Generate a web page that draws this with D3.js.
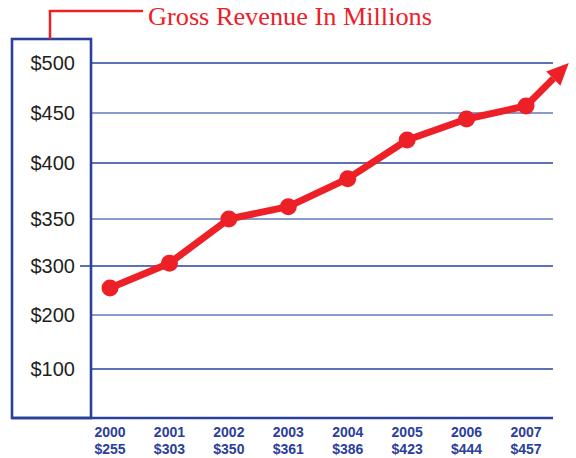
<!DOCTYPE html>
<html>
<head>
<meta charset="utf-8">
<script src="https://cdn.jsdelivr.net/npm/d3@7"></script>
<style>
  body { margin: 0; background: #fff; }
</style>
</head>
<body>
<svg id="chart"></svg>
<script>
var w = 576;
var h = 458;

// data
var years = ["2000", "2001", "2002", "2003", "2004", "2005", "2006", "2007"];
var revenue = [255, 303, 350, 361, 386, 423, 444, 457];
var tickValues = [100, 200, 300, 350, 400, 450, 500];

var red = "#ee2027";
var blue = "#2b409c";

var svg = d3.select("#chart")
    .attr("width", w)
    .attr("height", h);

// y axis in the picture is not evenly spaced, so piecewise scale
var y = d3.scaleLinear()
    .domain(tickValues)
    .range([369, 315, 266, 219, 163, 113, 63]);

var x = d3.scaleLinear()
    .domain([0, years.length - 1])
    .range([110, 526]);

var boxLeft = 12, boxRight = 91, boxTop = 39, boxBottom = 418;
var gridRight = 553;

// grid lines
svg.selectAll("line.grid")
    .data(tickValues)
    .enter()
    .append("line")
    .attr("class", "grid")
    .attr("x1", function(d){ return d == 300 ? 80 : boxRight; })
    .attr("x2", gridRight)
    .attr("y1", function(d){ return y(d); })
    .attr("y2", function(d){ return y(d); })
    .attr("stroke", function(d, i){ return i % 2 == 0 ? blue : "#6577bb"; })
    .attr("stroke-width", 1.4);

// bottom line
svg.append("line")
    .attr("x1", boxLeft)
    .attr("x2", gridRight)
    .attr("y1", boxBottom)
    .attr("y2", boxBottom)
    .attr("stroke", blue)
    .attr("stroke-width", 2.6);

// label box
svg.append("rect")
    .attr("x", boxLeft)
    .attr("y", boxTop)
    .attr("width", boxRight - boxLeft)
    .attr("height", boxBottom - boxTop)
    .attr("fill", "none")
    .attr("stroke", blue)
    .attr("stroke-width", 2.6);

// y labels
svg.selectAll("text.ylab")
    .data(tickValues)
    .enter()
    .append("text")
    .attr("class", "ylab")
    .attr("x", 75)
    .attr("y", function(d){ return y(d); })
    .attr("dy", "0.36em")
    .attr("text-anchor", "end")
    .style("font-family", "'Liberation Sans', Arial, sans-serif")
    .style("font-size", "20px")
    .style("fill", "#231f20")
    .text(function(d){ return "$" + d; });

// x labels
var xl = svg.selectAll("g.xlab")
    .data(years)
    .enter()
    .append("g")
    .attr("class", "xlab")
    .attr("transform", function(d, i){ return "translate(" + x(i) + ",0)"; });

xl.append("text")
    .attr("y", 437)
    .attr("text-anchor", "middle")
    .style("font-family", "'Liberation Sans', Arial, sans-serif")
    .style("font-weight", "bold")
    .style("font-size", "14px")
    .style("fill", blue)
    .text(function(d){ return d; });

xl.append("text")
    .attr("y", 454)
    .attr("text-anchor", "middle")
    .style("font-family", "'Liberation Sans', Arial, sans-serif")
    .style("font-weight", "bold")
    .style("font-size", "14px")
    .style("fill", blue)
    .text(function(d, i){ return "$" + revenue[i]; });

// title and connector
svg.append("path")
    .attr("d", "M50," + boxTop + "V11H143")
    .attr("fill", "none")
    .attr("stroke", red)
    .attr("stroke-width", 2.5);

svg.append("text")
    .attr("x", 148)
    .attr("y", 25)
    .attr("textLength", 284)
    .attr("lengthAdjust", "spacingAndGlyphs")
    .style("font-family", "'Liberation Serif', 'DejaVu Serif', serif")
    .style("font-size", "25px")
    .style("fill", red)
    .text("Gross Revenue In Millions");

// line
var line = d3.line()
    .x(function(d, i){ return x(i); })
    .y(function(d){ return y(d); });

svg.append("path")
    .datum(revenue)
    .attr("d", line)
    .attr("fill", "none")
    .attr("stroke", red)
    .attr("stroke-width", 7)
    .attr("stroke-linejoin", "round");

// arrow continuing past the last point
var last = revenue.length - 1;
var ax0 = x(last), ay0 = y(revenue[last]);
var ax1 = x(last + 0.72), ay1 = y(500);
var ang = Math.atan2(ay1 - ay0, ax1 - ax0);
var headLen = 22, headW = 10;
var bx = ax1 - headLen * Math.cos(ang), by = ay1 - headLen * Math.sin(ang);

svg.append("line")
    .attr("x1", ax0).attr("y1", ay0)
    .attr("x2", bx).attr("y2", by)
    .attr("stroke", red)
    .attr("stroke-width", 7);

svg.append("path")
    .attr("d", "M" + ax1 + "," + ay1 +
        "L" + (bx + headW * Math.sin(ang)) + "," + (by - headW * Math.cos(ang)) +
        "L" + (bx - headW * Math.sin(ang)) + "," + (by + headW * Math.cos(ang)) + "Z")
    .attr("fill", red);

// dots
svg.selectAll("circle.dot")
    .data(revenue)
    .enter()
    .append("circle")
    .attr("class", "dot")
    .attr("cx", function(d, i){ return x(i); })
    .attr("cy", function(d){ return y(d); })
    .attr("r", 8.5)
    .attr("fill", red);
</script>
</body>
</html>
